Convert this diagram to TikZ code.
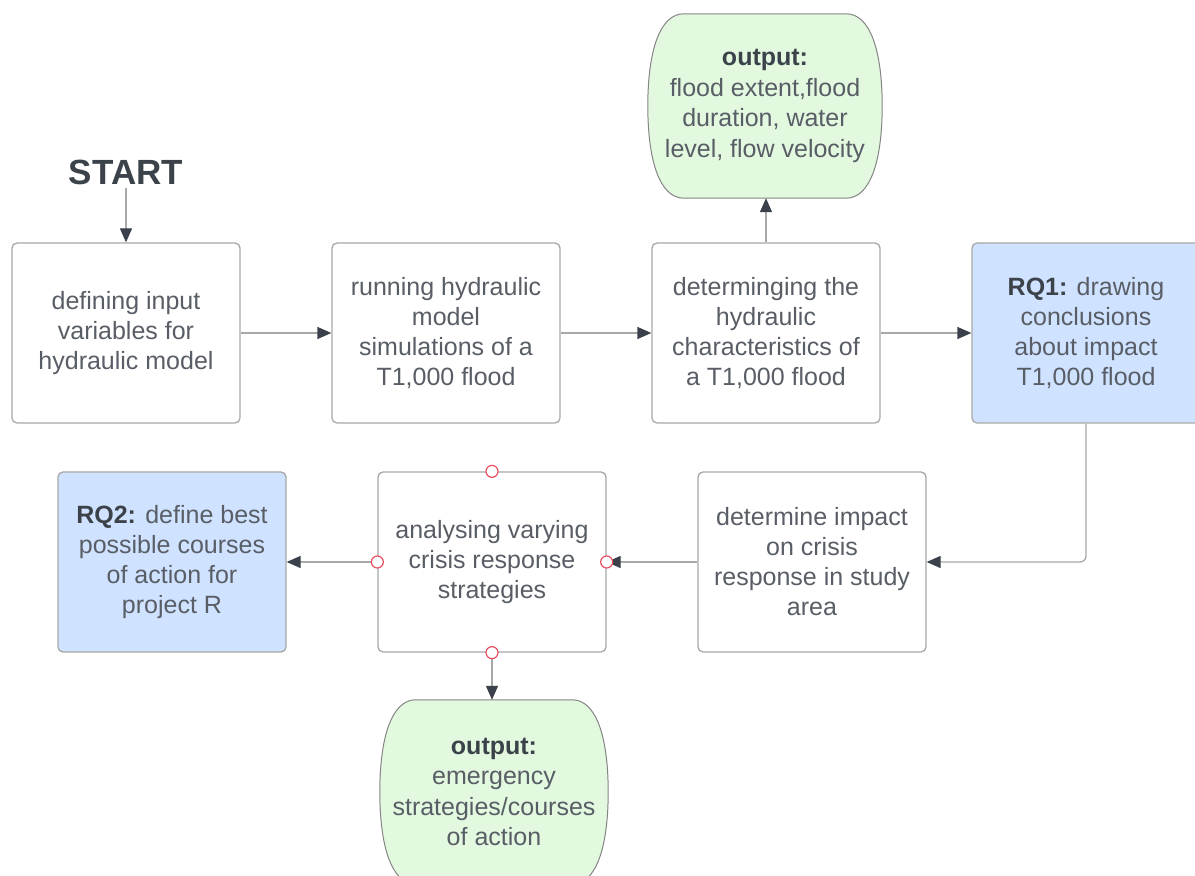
\documentclass[tikz,border=0pt]{standalone}
\usepackage{fontspec}
\setmainfont{Liberation Sans}
\usetikzlibrary{arrows.meta,backgrounds,calc}
\definecolor{txt}{HTML}{595E66}
\definecolor{boldc}{HTML}{3C424A}
\definecolor{edge}{HTML}{A8A8A8}
\definecolor{oedge}{HTML}{858585}
\definecolor{tipc}{HTML}{3A414A}
\definecolor{bluef}{HTML}{CFE2FF}
\definecolor{greenf}{HTML}{E2F8DF}
\definecolor{redc}{HTML}{E8505F}
\newcommand{\bt}[1]{\textbf{\color{boldc}#1}}
\newcommand{\outlineshape}[1]{%
  \path[draw=oedge, fill=greenf, line width=1pt]
    ($(#1.north west)+(36,0)$) -- ($(#1.north east)+(-36,0)$)
    .. controls ($(#1.north east)+(-12,0)$) and ($(#1.east)+(0,55)$) .. (#1.east)
    .. controls ($(#1.east)+(0,-55)$) and ($(#1.south east)+(-12,0)$) .. ($(#1.south east)+(-36,0)$)
    -- ($(#1.south west)+(36,0)$)
    .. controls ($(#1.south west)+(12,0)$) and ($(#1.west)+(0,-55)$) .. (#1.west)
    .. controls ($(#1.west)+(0,55)$) and ($(#1.north west)+(12,0)$) .. ($(#1.north west)+(36,0)$) -- cycle;}
\begin{document}
\begin{tikzpicture}[x=1pt,y=1pt,
  box/.style={draw=edge, line width=1.3pt, rounded corners=5pt, minimum width=228pt, minimum height=180pt, align=center, text=txt, font=\fontsize{25}{30}\selectfont, inner sep=0pt},
  bluebox/.style={box, fill=bluef},
  outshape/.style={minimum width=234pt, minimum height=184pt, align=center, text=txt, font=\fontsize{25}{30.5}\selectfont, inner sep=0pt},
  conn/.style={draw=edge, line width=1.3pt, -{Triangle[length=14pt,width=12pt,color=tipc]}},
  port/.style={circle, draw=redc, fill=white, line width=1.2pt, minimum size=12pt, inner sep=0pt}]
\useasboundingbox (0,0) rectangle (1195,876);

\node[font=\bfseries\fontsize{35}{40}\selectfont, text=boldc, inner sep=3pt] (start) at (126,704) {START};
\node[box] (b1) at (126,543) {defining input\\variables for\\hydraulic model};
\node[box] (b2) at (446,543) {running hydraulic\\model\\simulations of a\\T1,000 flood};
\node[box] (b3) at (766,543) {determinging the\\hydraulic\\characteristics of\\a T1,000 flood};
\node[bluebox] (rq1) at (1086,543) {\bt{RQ1:} drawing\\conclusions\\about impact\\T1,000 flood};
\node[outshape] (o1) at (765,770) {\bt{output:}\\flood extent,flood\\duration, water\\level, flow velocity};
\node[box] (det) at (812,314) {determine impact\\on crisis\\response in study\\area};
\node[box] (ana) at (492,314) {analysing varying\\crisis response\\strategies};
\node[bluebox] (rq2) at (172,314) {\bt{RQ2:} define best\\possible courses\\of action for\\project R};
\node[outshape, minimum width=228pt] (o2) at (494,84) {\bt{output:}\\emergency\\strategies/courses\\of action};

\begin{scope}[on background layer]
\fill[white] (0,0) rectangle (1195,876);
\outlineshape{o1}
\outlineshape{o2}
\end{scope}

\draw[conn] (start.south) -- (b1.north);
\draw[conn] (b1.east) -- (b2.west);
\draw[conn] (b2.east) -- (b3.west);
\draw[conn] (b3.east) -- (rq1.west);
\draw[conn] (b3.north) -- (b3.north |- o1.south);
\draw[conn, rounded corners=6pt] (rq1.south) |- (det.east);
\draw[conn] (det.west) -- (ana.east);
\draw[conn] (ana.west) -- (rq2.east);
\draw[conn] (ana.south) -- (ana.south |- o2.north);

\node[port] (p1) at (ana.north) {};
\node[port] (p2) at (ana.south) {};
\node[port] (p3) at (ana.west) {};
\node[port] (p4) at (ana.east) {};
\end{tikzpicture}
\end{document}
